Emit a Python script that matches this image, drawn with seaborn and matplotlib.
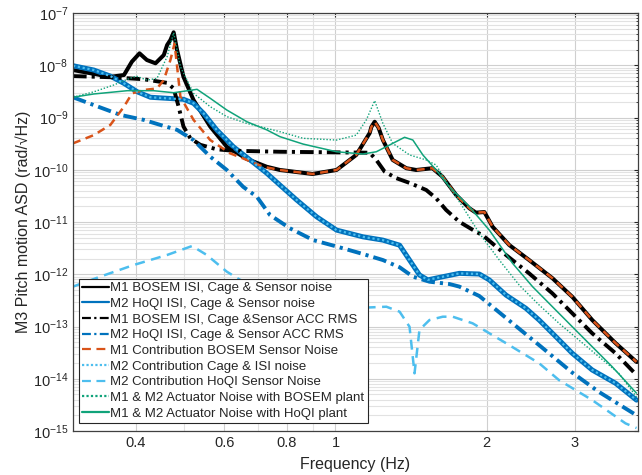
import matplotlib
matplotlib.use("Agg")
import matplotlib.pyplot as plt
from matplotlib.lines import Line2D
from matplotlib.ticker import FixedLocator, FixedFormatter, LogLocator, NullFormatter
import seaborn as sns

# M1 BOSEM ISI, Cage & Sensor noise
f_m1_noise = [0.300, 0.356, 0.379, 0.393, 0.407, 0.421, 0.438, 0.455, 0.462, 0.469, 0.476,
              0.4835, 0.498, 0.5215, 0.563, 0.6075, 0.666, 0.7295, 0.775, 0.90, 1.005, 1.10,
              1.17, 1.179, 1.197, 1.219, 1.243, 1.30, 1.384, 1.448, 1.56, 1.633, 1.739, 1.848,
              1.905, 1.98, 2.056, 2.219, 2.431, 2.705, 2.963, 3.247, 3.614, 3.978]
asd_m1_noise = [8.1e-9, 6.0e-9, 6.5e-9, 1.17e-8, 1.69e-8, 1.26e-8, 1.09e-8, 1.57e-8, 2.44e-8,
                3.04e-8, 4.27e-8, 1.96e-8, 6.0e-9, 2.16e-9, 6.7e-10, 2.76e-10, 1.61e-10,
                1.14e-10, 9.9e-11, 8.3e-11, 9.9e-11, 1.92e-10, 5.05e-10, 6.6e-10, 8.3e-10,
                6.3e-10, 3.71e-10, 1.54e-10, 1.07e-10, 9.9e-11, 1.07e-10, 7.4e-11, 3.3e-11,
                1.83e-11, 1.51e-11, 1.55e-11, 8.1e-12, 3.63e-12, 1.87e-12, 8.4e-13, 3.7e-13,
                1.33e-13, 4.8e-14, 2.1e-14]

# M2 HoQI ISI, Cage & Sensor noise  (M2 contribution Cage & ISI lies on top of it)
f_m2_noise = [0.300, 0.330, 0.356, 0.379, 0.403, 0.428, 0.462, 0.498, 0.5215, 0.546, 0.580,
              0.626, 0.676, 0.7295, 0.775, 0.837, 0.917, 1.005, 1.1345, 1.243, 1.342, 1.4045,
              1.470, 1.527, 1.611, 1.765, 1.934, 2.025, 2.186, 2.395, 2.545, 2.747, 2.963,
              3.247, 3.614, 3.978]
asd_m2_noise = [9.8e-9, 8.1e-9, 6.2e-9, 4.5e-9, 3.1e-9, 2.44e-9, 2.33e-9, 2.23e-9, 1.87e-9,
                1.2e-9, 5.8e-10, 2.76e-10, 1.54e-10, 8.6e-11, 5.1e-11, 2.64e-11, 1.26e-11,
                7.0e-12, 5.2e-12, 4.5e-12, 3.6e-12, 1.87e-12, 9.7e-13, 7.8e-13, 8.7e-13,
                1.04e-12, 1.01e-12, 7.8e-13, 4.0e-13, 2.23e-13, 1.33e-13, 6.4e-14, 3.07e-14,
                1.47e-14, 8.2e-15, 3.9e-15]

# M1 BOSEM ISI, Cage & Sensor ACC RMS
f_m1_rms = [0.300, 0.356, 0.415, 0.462, 0.476, 0.487, 0.498, 0.514, 0.538, 0.580, 0.626,
            0.775, 1.17, 1.206, 1.253, 1.322, 1.4045, 1.516, 1.587, 1.661, 1.765, 1.905,
            1.964, 2.186, 2.431, 2.705, 2.963, 3.247, 3.614, 3.978]
asd_m1_rms = [6.2e-9, 5.9e-9, 5.4e-9, 4.6e-9, 3.6e-9, 1.61e-9, 6.7e-10, 4.0e-10, 3.0e-10,
              2.46e-10, 2.31e-10, 2.21e-10, 2.12e-10, 1.54e-10, 9.2e-11, 6.9e-11, 5.6e-11,
              4.1e-11, 2.84e-11, 1.7e-11, 1.01e-11, 6.5e-12, 5.6e-12, 2.34e-12, 1.04e-12,
              4.3e-13, 1.79e-13, 7.4e-14, 3.07e-14, 1.18e-14]

# M2 HoQI ISI, Cage & Sensor ACC RMS
f_m2_rms = [0.300, 0.330, 0.373, 0.415, 0.448, 0.4835, 0.5215, 0.563, 0.6075, 0.655, 0.697,
            0.7405, 0.811, 0.903, 1.005, 1.1345, 1.243, 1.342, 1.426, 1.539, 1.687, 1.765,
            1.934, 2.186, 2.545, 2.963, 3.348, 3.978]
asd_m2_rms = [2.44e-9, 1.73e-9, 1.12e-9, 9.0e-10, 7.2e-10, 5.8e-10, 3.7e-10, 1.78e-10,
              9.9e-11, 4.7e-11, 3.05e-11, 1.36e-11, 7.6e-12, 4.5e-12, 3.4e-12, 2.44e-12,
              1.87e-12, 1.36e-12, 9.0e-13, 7.2e-13, 6.5e-13, 5.8e-13, 3.84e-13, 1.46e-13,
              4.4e-14, 1.31e-14, 5.6e-15, 2.0e-15]

# M1 Contribution BOSEM Sensor Noise
f_m1_sensor = [0.300, 0.330, 0.356, 0.379, 0.3934, 0.415, 0.441, 0.455, 0.469, 0.478, 0.491,
               0.5215, 0.563, 0.617, 0.666, 0.718, 0.775, 0.90, 1.005, 1.10, 1.17, 1.179,
               1.197, 1.219, 1.243, 1.30, 1.384, 1.448, 1.56, 1.633, 1.739, 1.848, 1.905,
               1.98, 2.056, 2.219, 2.431, 2.705, 2.963, 3.247, 3.614, 3.978]
asd_m1_sensor = [3.2e-10, 4.6e-10, 7.2e-10, 1.61e-9, 2.9e-9, 3.36e-9, 3.6e-9, 5.2e-9, 1.26e-8,
                 2.6e-8, 2.5e-9, 9.0e-10, 3.7e-10, 2.06e-10, 1.54e-10, 1.14e-10, 9.9e-11,
                 8.3e-11, 9.9e-11, 1.92e-10, 5.05e-10, 6.6e-10, 8.3e-10, 6.3e-10, 3.71e-10,
                 1.54e-10, 1.07e-10, 9.9e-11, 1.07e-10, 7.4e-11, 3.3e-11, 1.83e-11, 1.51e-11,
                 1.55e-11, 8.1e-12, 3.63e-12, 1.87e-12, 8.4e-13, 3.7e-13, 1.33e-13, 4.8e-14,
                 2.1e-14]

# M2 Contribution HoQI Sensor Noise
f_m2_sensor = [0.300, 0.340, 0.396, 0.462, 0.518, 0.554, 0.6075, 0.646, 0.775, 0.931, 1.1345,
               1.263, 1.342, 1.4045, 1.437, 1.470, 1.539, 1.636, 1.712, 1.876, 2.186, 2.545,
               2.789, 3.247, 3.7825, 3.978]
asd_m2_sensor = [5.8e-13, 9.0e-13, 1.5e-12, 2.34e-12, 3.47e-12, 2.34e-12, 1.12e-12, 7.8e-13,
                 4.6e-13, 3.2e-13, 2.29e-13, 2.39e-13, 1.92e-13, 9.9e-14, 1.27e-14, 8.6e-14,
                 1.33e-13, 1.54e-13, 1.54e-13, 1.15e-13, 4.8e-14, 1.98e-14, 9.4e-15, 3.9e-15,
                 1.4e-15, 1.14e-15]

# M1 & M2 Actuator Noise with BOSEM plant
f_act_bosem = [0.300, 0.330, 0.362, 0.385, 0.401, 0.421, 0.441, 0.462, 0.476, 0.491, 0.5215,
               0.563, 0.6075, 0.666, 0.7295, 0.775, 0.862, 1.005, 1.10, 1.152, 1.197, 1.243,
               1.30, 1.4045, 1.516, 1.587, 1.687, 1.792, 1.934, 2.12, 2.323, 2.545, 2.789,
               3.055, 3.348, 3.669, 3.978]
asd_act_bosem = [2.44e-9, 3.1e-9, 4.2e-9, 5.4e-9, 6.2e-9, 5.2e-9, 5.6e-9, 1.46e-8, 4.2e-8,
                 9.4e-9, 2.9e-9, 1.61e-9, 1.04e-9, 7.7e-10, 6.2e-10, 5.35e-10, 4.0e-10,
                 3.7e-10, 4.6e-10, 9.0e-10, 2.1e-9, 7.7e-10, 3.2e-10, 1.92e-10, 1.54e-10,
                 1.23e-10, 4.7e-11, 1.96e-11, 6.1e-12, 1.87e-12, 6.2e-13, 2.58e-13, 1.15e-13,
                 5.5e-14, 2.64e-14, 1.27e-14, 4.5e-15]

# M1 & M2 Actuator Noise with HoQI plant
f_act_hoqi = [0.300, 0.330, 0.385, 0.434, 0.476, 0.530, 0.563, 0.6075, 0.666, 0.7295, 0.775,
              0.862, 1.005, 1.1345, 1.206, 1.282, 1.373, 1.426, 1.493, 1.587, 1.687, 1.848,
              2.025, 2.253, 2.469, 2.705, 2.963, 3.247, 3.558, 3.978]
asd_act_hoqi = [2.44e-9, 2.82e-9, 3.26e-9, 3.26e-9, 2.98e-9, 3.46e-9, 2.33e-9, 1.39e-9,
                8.3e-10, 5.8e-10, 4.3e-10, 3.1e-10, 2.21e-10, 2.0e-10, 2.21e-10, 2.98e-10,
                4.18e-10, 3.71e-10, 1.92e-10, 9.9e-11, 4.7e-11, 1.96e-11, 7.0e-12, 1.62e-12,
                5.8e-13, 2.39e-13, 9.9e-14, 4.1e-14, 1.7e-14, 5.3e-15]

labels = ["M1 BOSEM ISI, Cage & Sensor noise",
          "M2 HoQI ISI, Cage & Sensor noise",
          "M1 BOSEM ISI, Cage &Sensor ACC RMS",
          "M2 HoQI ISI, Cage & Sensor ACC RMS",
          "M1 Contribution BOSEM Sensor Noise",
          "M2 Contribution Cage & ISI noise",
          "M2 Contribution HoQI Sensor Noise",
          "M1 & M2 Actuator Noise with BOSEM plant",
          "M1 & M2 Actuator Noise with HoQI plant"]

c_black = "#000000"
c_blue = "#0072BD"
c_orange = "#D95319"
c_lblue = "#4DBEEE"
c_green = "#10A37A"

sns.set_style("white")
plt.rcParams["font.family"] = ["Liberation Sans", "DejaVu Sans"]
plt.rcParams["mathtext.fontset"] = "custom"
plt.rcParams["mathtext.rm"] = "Liberation Sans"

fig = plt.figure(figsize=(6.42, 4.75), dpi=100)
ax = fig.add_axes([73 / 642, 44 / 475, 564.7 / 642, 418 / 475])
ax.set_xscale("log")
ax.set_yscale("log")

dashdot = (0, (3.5, 1.3, 0.8, 1.3))
curves = [
    (f_m1_noise, asd_m1_noise, c_black, 2.9, "-"),
    (f_m2_noise, asd_m2_noise, c_blue, 3.6, "-"),
    (f_m1_rms, asd_m1_rms, c_black, 2.8, dashdot),
    (f_m2_rms, asd_m2_rms, c_blue, 2.8, dashdot),
    (f_m1_sensor, asd_m1_sensor, c_orange, 1.8, (0, (3.2, 2.2))),
    (f_m2_noise, asd_m2_noise, c_lblue, 1.6, (0, (1, 1.2))),
    (f_m2_sensor, asd_m2_sensor, c_lblue, 1.8, (0, (4, 2.6))),
    (f_act_bosem, asd_act_bosem, c_green, 1.0, (0, (1, 1.3))),
    (f_act_hoqi, asd_act_hoqi, c_green, 1.1, "-"),
]
for fx, fy, col, lw, ls in curves:
    sns.lineplot(x=fx, y=fy, ax=ax, color=col, linewidth=lw, linestyle=ls,
                 estimator=None, sort=False, legend=False)

ax.set_xlim(0.3, 4)
ax.set_ylim(1e-15, 1e-7)

ax.xaxis.set_major_locator(FixedLocator([0.4, 0.6, 0.8, 1, 2, 3]))
ax.xaxis.set_major_formatter(FixedFormatter(["0.4", "0.6", "0.8", "1", "2", "3"]))
ax.xaxis.set_minor_locator(FixedLocator([0.3, 0.5, 0.7, 0.9]))
ax.xaxis.set_minor_formatter(NullFormatter())
ax.yaxis.set_major_locator(LogLocator(base=10, numticks=20))
ax.yaxis.set_minor_locator(LogLocator(base=10, subs=range(2, 10), numticks=100))
ax.yaxis.set_minor_formatter(NullFormatter())

ax.grid(which="major", color="#cfcfcf", linewidth=0.8)
ax.grid(which="minor", color="#e2e2e2", linewidth=0.8)
ax.set_axisbelow(True)
ax.tick_params(which="both", direction="in", top=True, right=True, labelsize=10.5,
               colors="#262626")
ax.tick_params(which="major", length=3)
ax.tick_params(which="minor", length=1.5)
for sp in ax.spines.values():
    sp.set_color("#404040")
    sp.set_linewidth(0.9)

ax.set_xlabel("Frequency (Hz)", fontsize=11.5, color="#262626", labelpad=5)
ax.set_ylabel("M3 Pitch motion ASD (rad/\u221aHz)", fontsize=11.5, color="#262626",
              labelpad=1)

handles = [
    Line2D([], [], color=c_black, lw=1.6, ls="-"),
    Line2D([], [], color=c_blue, lw=1.6, ls="-"),
    Line2D([], [], color=c_black, lw=1.6, ls=(0, (4, 1.5, 1, 1.5))),
    Line2D([], [], color=c_blue, lw=1.6, ls=(0, (4, 1.5, 1, 1.5))),
    Line2D([], [], color=c_orange, lw=1.6, ls=(0, (4, 2.5))),
    Line2D([], [], color=c_lblue, lw=1.6, ls=(0, (1, 1))),
    Line2D([], [], color=c_lblue, lw=1.6, ls=(0, (4, 2.5))),
    Line2D([], [], color=c_green, lw=1.6, ls=(0, (1, 1))),
    Line2D([], [], color=c_green, lw=1.6, ls="-"),
]
leg = ax.legend(handles, labels, loc="lower left", bbox_to_anchor=(0.0106, 0.019),
                borderaxespad=0, fontsize=9.5, frameon=True, fancybox=False,
                edgecolor="#262626", framealpha=1, labelspacing=0.26, handlelength=2.0,
                handletextpad=0.12, borderpad=0.25)
leg.get_frame().set_linewidth(0.8)

fig.savefig("out.png", dpi=100)
